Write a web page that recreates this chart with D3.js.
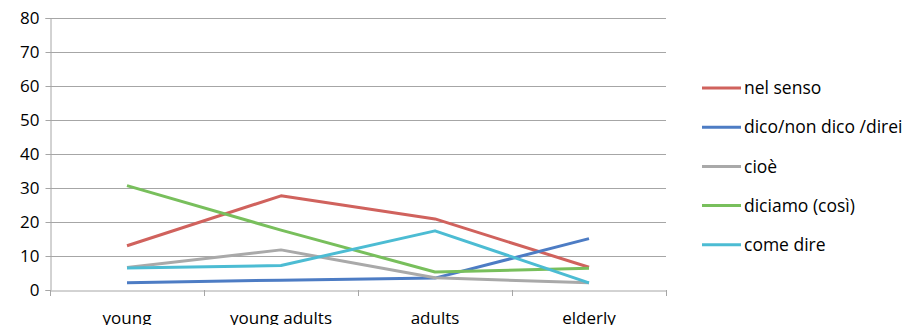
<!DOCTYPE html>
<html><head><meta charset="utf-8">
<script src="https://cdn.jsdelivr.net/npm/d3@7"></script>
<style>body{margin:0;background:#fff}svg{display:block;font-family:"Open Sans",sans-serif}</style>
</head><body><svg id="c" width="906" height="325"></svg>
<script>
const categories = ["young", "young adults", "adults", "elderly"];
const seriesNames = ["nel senso", "dico/non dico /direi", "cioè", "diciamo (così)", "come dire"];
const nelSenso = [13.0, 27.7, 20.9, 6.7];
const dico = [2.1, 2.9, 3.5, 15.1];
const cioe = [6.6, 11.8, 3.6, 2.1];
const diciamo = [30.7, 17.6, 5.3, 6.4];
const comeDire = [6.5, 7.2, 17.4, 2.1];
const yTicks = [0, 10, 20, 30, 40, 50, 60, 70, 80];
const colors = ["#d0625d", "#4d7cc4", "#a9a9a9", "#78bf5c", "#4cbcd3"];
const allSeries = [nelSenso, dico, cioe, diciamo, comeDire];

const svg = d3.select("#c");
const x = d3.scaleBand().domain(categories).range([50, 666]);
const y = d3.scaleLinear().domain([0, 80]).range([290, 18]);

// gridlines
svg.append("g").selectAll("line").data(yTicks.slice(1)).join("line")
  .attr("x1", 50).attr("x2", 666).attr("y1", d => y(d)).attr("y2", d => y(d))
  .attr("stroke", "#a6a6a6").attr("stroke-width", 1).attr("shape-rendering", "crispEdges");

// y axis
const ya = svg.append("g").attr("transform", "translate(50.5,0)")
  .call(d3.axisLeft(y).tickValues(yTicks).tickSize(5).tickPadding(6).tickFormat(d3.format("d")));
ya.select(".domain").attr("stroke", "#a6a6a6");
ya.selectAll(".tick line").attr("stroke", "#a6a6a6");
ya.selectAll(".tick text").attr("font-size", 17).attr("fill", "#000").attr("font-family", "Open Sans");

// x axis
const xa = svg.append("g").attr("transform", "translate(0,290.5)")
  .call(d3.axisBottom(x).tickSize(0).tickPadding(21));
xa.select(".domain").attr("stroke", "#a6a6a6");
xa.selectAll(".tick text").attr("font-size", 17).attr("fill", "#000").attr("font-family", "Open Sans");
const bounds = categories.map(c => x(c)).concat([x.range()[1]]);
svg.append("g").selectAll("line").data(bounds).join("line")
  .attr("x1", d => Math.round(d) + 0.5).attr("x2", d => Math.round(d) + 0.5)
  .attr("y1", 290).attr("y2", 296).attr("stroke", "#a6a6a6");

// lines
const line = d3.line().x((d, i) => x(categories[i]) + x.bandwidth() / 2).y(d => y(d));
allSeries.forEach((s, k) => {
  svg.append("path").datum(s).attr("d", line).attr("fill", "none")
    .attr("stroke", colors[k]).attr("stroke-width", 3).attr("stroke-linejoin", "round");
});

// legend
const lg = svg.append("g");
seriesNames.forEach((n, k) => {
  const yy = 88 + k * 39.2;
  lg.append("line").attr("x1", 702).attr("x2", 741).attr("y1", yy).attr("y2", yy)
    .attr("stroke", colors[k]).attr("stroke-width", 3);
  lg.append("text").attr("x", 744).attr("y", yy).attr("dy", "0.35em")
    .attr("font-size", 17.5).attr("fill", "#000").text(n);
});
</script></body></html>
